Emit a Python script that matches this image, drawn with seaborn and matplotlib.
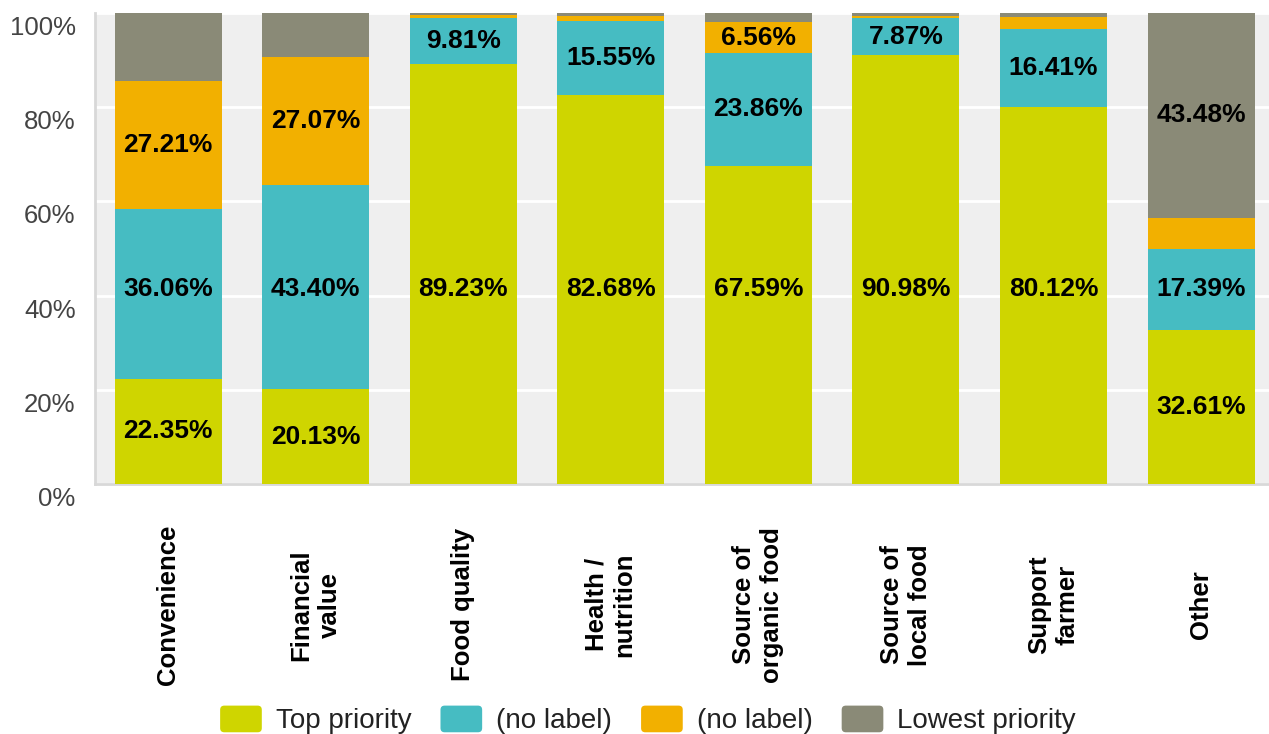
import matplotlib
matplotlib.use("Agg")
import matplotlib.pyplot as plt
from matplotlib.patches import Patch, FancyBboxPatch
from matplotlib.legend_handler import HandlerPatch
from matplotlib.transforms import ScaledTranslation
import numpy as np
import pandas as pd
import seaborn as sns

# Share of respondents per priority level, by reason for buying
categories = ["Convenience", "Financial\nvalue", "Food quality", "Health /\nnutrition",
              "Source of\norganic food", "Source of\nlocal food", "Support\nfarmer", "Other"]
series_names = ["Top priority", "(no label)", "(no label)", "Lowest priority"]
top_priority = [22.35, 20.13, 89.23, 82.68, 67.59, 90.98, 80.12, 32.61]
second_level = [36.06, 43.40, 9.81, 15.55, 23.86, 7.87, 16.41, 17.39]
third_level = [27.21, 27.07, 0.50, 1.20, 6.56, 0.60, 2.62, 6.52]
lowest_priority = [14.38, 9.40, 0.46, 0.57, 1.99, 0.55, 0.85, 43.48]
# which segments carry a value label
shown_top = [True] * 8
shown_second = [True] * 8
shown_third = [True, True, False, False, True, False, False, False]
shown_lowest = [False, False, False, False, False, False, False, True]
yticks = [0, 20, 40, 60, 80, 100]
ytick_labels = ["0%", "20%", "40%", "60%", "80%", "100%"]

colors = ["#cfd500", "#46bcc2", "#f2b000", "#8a8a77"]

sns.set_theme(style="white")
plt.rcParams["font.family"] = ["Liberation Sans", "DejaVu Sans"]

fig = plt.figure(figsize=(12.69, 7.34), dpi=100)
ax = fig.add_axes([95 / 1269, 250 / 734, 1174 / 1269, 471 / 734])
ax.set_facecolor("#efefef")

layers = [top_priority, second_level, third_level, lowest_priority]
shown = [shown_top, shown_second, shown_third, shown_lowest]
cum = np.cumsum(np.array(layers), axis=0)

# stacked bars: draw the cumulative totals from the top layer down
for i in range(len(layers) - 1, -1, -1):
    df = pd.DataFrame({"category": categories, "value": cum[i]})
    sns.barplot(data=df, x="category", y="value", order=categories, color=colors[i],
                saturation=1, width=0.725, linewidth=0, errorbar=None, ax=ax, zorder=3)

# value labels
anchor = 41.5
for i, vals in enumerate(layers):
    for j, v in enumerate(vals):
        if not shown[i][j]:
            continue
        lo = cum[i][j] - v
        hi = cum[i][j]
        y = anchor if lo <= anchor <= hi else (lo + hi) / 2
        ax.text(j, y, f"{v:.2f}%", ha="center", va="center", fontsize=19,
                fontweight="bold", color="black", zorder=5)

ax.set_ylim(0, 100)
ax.set_xlim(-0.495, 7.46)
ax.set_yticks(yticks)
ax.set_yticklabels(ytick_labels)
ax.set_xlabel("")
ax.set_ylabel("")
ax.grid(axis="y", color="white", linewidth=2, zorder=1)
ax.set_axisbelow(True)
for s in ["top", "right"]:
    ax.spines[s].set_visible(False)
for s in ["left", "bottom"]:
    ax.spines[s].set_color("#d8d8d8")
    ax.spines[s].set_linewidth(2)

ax.tick_params(axis="y", length=0, pad=14, labelsize=18.5, labelcolor="#444444")
ax.tick_params(axis="x", length=0, pad=87, labelsize=18.5)
shift_down = ScaledTranslation(0, -3 / 100, fig.dpi_scale_trans)
for lbl in ax.get_yticklabels():
    lbl.set_va("top")
    lbl.set_transform(lbl.get_transform() + shift_down)
for lbl in ax.get_xticklabels():
    lbl.set_rotation(90)
    lbl.set_va("center")
    lbl.set_ha("center")
    lbl.set_multialignment("center")
    lbl.set_fontweight("bold")
    lbl.set_color("black")


def rounded_swatch(legend, orig_handle, xdescent, ydescent, width, height, fontsize):
    return FancyBboxPatch((-xdescent, -ydescent), width, height,
                          boxstyle="round,pad=0,rounding_size=3")


handles = [Patch(facecolor=c, edgecolor="none") for c in colors]
fig.legend(handles, series_names, loc="center", bbox_to_anchor=(648 / 1269, 1 - 720 / 734),
           ncol=4, frameon=False, fontsize=20, handlelength=1.5, handleheight=1.1,
           handletextpad=0.5, columnspacing=1.05, labelcolor="#222222",
           handler_map={Patch: HandlerPatch(patch_func=rounded_swatch)})

fig.savefig("out.png", dpi=100)
